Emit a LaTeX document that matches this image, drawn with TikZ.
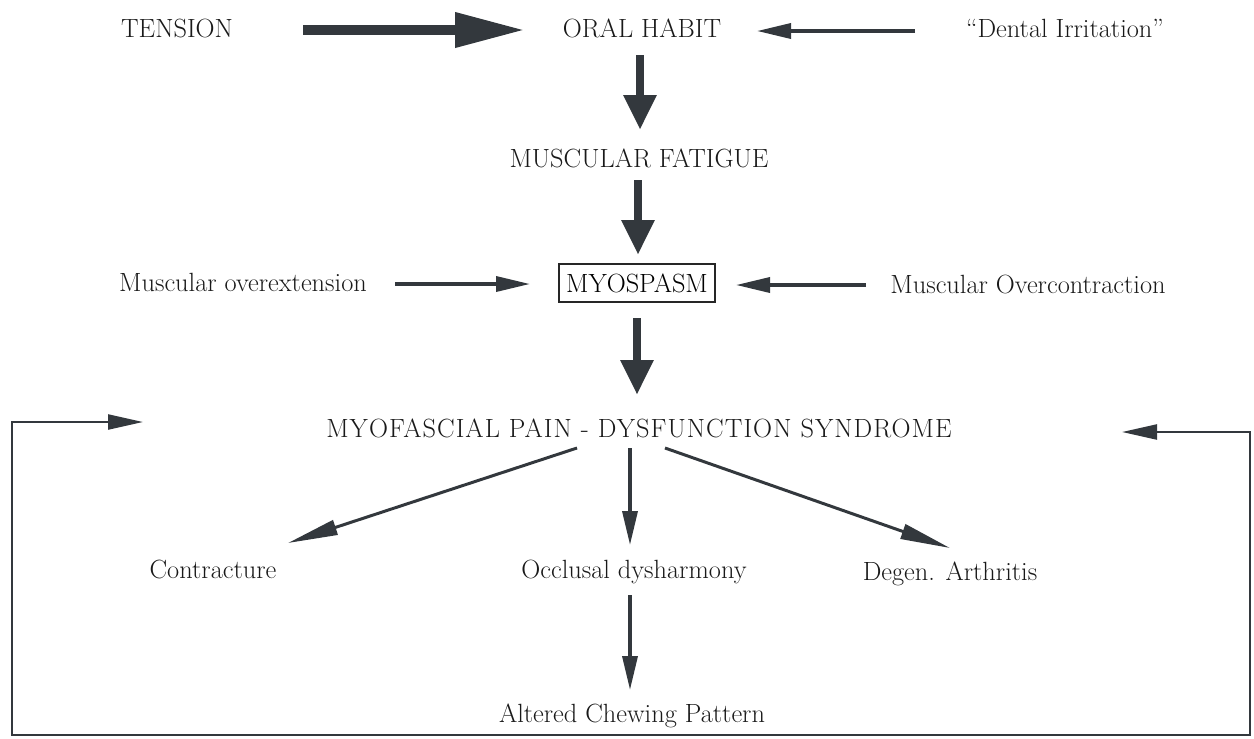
\documentclass[tikz,border=0pt]{standalone}
\usepackage{fontspec}
\usepackage{tikz}
\usetikzlibrary{arrows.meta,calc,positioning}
\definecolor{Ink}{HTML}{33383D}
\newfontfamily\widefont[LetterSpace=4]{Latin Modern Roman}

\begin{document}
\begin{tikzpicture}[x=0.02cm,y=-0.02cm,
        lbl/.style={inner sep=0pt,anchor=base,font=\fontsize{15}{18}\selectfont,text=black!90},
        fatarrow/.style={draw=Ink,line width=5.1pt,-{Triangle[length=0.7cm,width=0.62cm]}},
        thinarrow/.style={draw=Ink,line width=2pt,-{Triangle[length=0.68cm,width=0.3cm]}},
        diagarrow/.style={draw=Ink,line width=1.7pt,-{Triangle[length=1cm,width=0.3cm]}},
        looparrow/.style={draw=Ink,line width=1.3pt,{Triangle[length=0.7cm,width=0.3cm]}-{Triangle[length=0.7cm,width=0.3cm]}}]
        \useasboundingbox (0,0) rectangle (1254,738);
        % top row
        \node[lbl] (tension) at (177,37) {TENSION};
        \node[lbl] (oral) at (642,37) {ORAL HABIT};
        \node[lbl] (dental) at (1065,37) {``Dental Irritation''};
        \node[lbl] (fatigue) at (639,167) {MUSCULAR FATIGUE};
        % myospasm row
        \node[draw=black!85,line width=1.2pt,inner xsep=4pt,inner ysep=0pt,minimum height=0.76cm,font=\fontsize{15}{18}\selectfont] (myo) at (637,283) {MYOSPASM};
        \node[lbl] (overext) at (243,291) {Muscular overextension};
        \node[lbl] (overcon) at (1028,293) {Muscular Overcontraction};
        \node[lbl,font=\widefont\fontsize{15}{18}\selectfont] (mpds) at (639,437) {MYOFASCIAL PAIN - DYSFUNCTION SYNDROME};
        % consequences
        \node[lbl] (contr) at (213,578) {Contracture};
        \node[lbl] (occl) at (634,578) {Occlusal dysharmony};
        \node[lbl] (degen) at (950,580) {Degen. Arthritis};
        \node[lbl] (altered) at (632,722) {Altered Chewing Pattern};

        \draw[draw=Ink,line width=5.7pt,-{Triangle[length=1.4cm,width=0.66cm]}]
          ($(tension.base)+(126,-7)$) -- ($(oral.base)+(-117,-7)$);
        \draw[thinarrow] ($(dental.base)+(-150,-6)$) -- ($(oral.base)+(115,-6)$);
        \draw[fatarrow] ($(oral.base)+(-2,18)$) -- ($(fatigue.base)+(1,-37)$);
        \draw[fatarrow] ($(fatigue.base)+(-1,13)$) -- ($(myo.center)+(1,-28)$);
        \draw[thinarrow] ($(overext.base)+(152,-7)$) -- ($(myo.center)+(-107,1)$);
        \draw[thinarrow] ($(overcon.base)+(-162,-8)$) -- ($(myo.center)+(99,2)$);
        \draw[fatarrow] ($(myo.center)+(0,35)$) -- ($(mpds.base)+(-2,-42)$);
        \draw[diagarrow] ($(mpds.base)+(-62,11)$) -- ($(contr.base)+(75,-35)$);
        \draw[thinarrow] ($(mpds.base)+(-9,11)$) -- ($(occl.base)+(-4,-33)$);
        \draw[diagarrow] ($(mpds.base)+(26,11)$) -- ($(degen.base)+(0,-32)$);
        \draw[thinarrow] ($(occl.base)+(-4,17)$) -- ($(altered.base)+(-2,-32)$);
        % feedback loop
        \draw[looparrow] ($(mpds.base)+(-496,-15)$) -- ++(-131,0) -- ++(0,313)
          -- ++(1238,0) -- ++(0,-303) -- ++(-128,0);
\end{tikzpicture}
\end{document}
